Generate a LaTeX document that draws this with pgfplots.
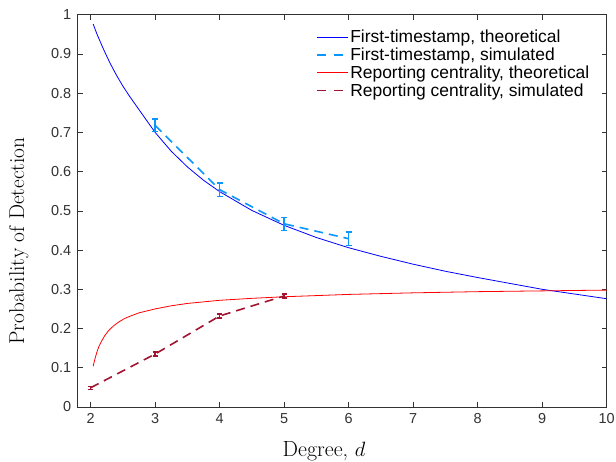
\documentclass[border=0pt]{standalone}
\usepackage{fontspec}
\usepackage{pgfplots}
\pgfplotsset{compat=1.18}
\newfontfamily\arial{Liberation Sans}
\definecolor{ThBlue}{RGB}{0,0,255}
\definecolor{SimBlue}{RGB}{10,150,250}
\definecolor{ThRed}{RGB}{255,0,0}
\definecolor{SimRed}{RGB}{162,20,47}
\definecolor{AxGray}{RGB}{50,50,50}

\begin{document}
\begin{tikzpicture}
\begin{axis}[
    scale only axis,
    width=529bp,
    height=392.3bp,
    xmin=1.8, xmax=10,
    ymin=0, ymax=1,
    xtick={2,3,4,5,6,7,8,9,10},
    ytick={0,0.1,0.2,0.3,0.4,0.5,0.6,0.7,0.8,0.9,1},
    minor tick num=0,
    tick align=inside,
    major tick length=5bp,
    axis line style={draw=AxGray, line width=0.6bp},
    tick style={draw=AxGray, line width=0.6bp},
    /pgf/number format/assume math mode=true,
    tick label style={font=\arial\fontsize{14.5}{17}\selectfont, text=AxGray},
    yticklabel style={xshift=-3bp},
    xticklabel style={yshift=-3bp},
    xlabel={Degree, $d$},
    ylabel={Probability of Detection},
    label style={font=\fontsize{21.5}{26}\selectfont},
    xlabel style={at={(axis description cs:0.4656,-0.1267)}, anchor=base, font=\fontsize{22}{26}\selectfont},
    ylabel style={at={(axis description cs:-0.1015,0.423)}, anchor=base},
    legend style={
        draw=none, fill=none,
        at={(axis description cs:0.4505,0.965)},
        anchor=north west,
        inner sep=0pt,
        row sep=0.7bp,
        font=\arial\fontsize{17.5}{19}\selectfont,
        nodes={inner sep=1.5bp},
    },
    legend cell align=left,
    legend image code/.code={\draw[#1] (0bp,0bp) -- (31bp,0bp);},
    clip=true,
]

\addlegendimage{ThBlue, line width=0.9bp}
\addlegendentry{First-timestamp, theoretical}
\addlegendimage{SimBlue, line width=1.6bp, dash pattern=on 9bp off 8bp}
\addlegendentry{First-timestamp, simulated}
\addlegendimage{ThRed, line width=0.9bp}
\addlegendentry{Reporting centrality, theoretical}
\addlegendimage{SimRed, line width=1.6bp, dash pattern=on 9bp off 8bp}
\addlegendentry{Reporting centrality, simulated}

% theoretical curves
\addplot[ThBlue, line width=0.8bp, forget plot] coordinates {
    (2.04,0.976) (2.1,0.950) (2.2,0.912) (2.3,0.877) (2.4,0.846)
    (2.5,0.818) (2.6,0.793) (2.75,0.758) (3,0.700) (3.25,0.652)
    (3.5,0.612) (3.75,0.578) (4,0.549) (4.5,0.501) (5,0.463)
    (5.5,0.432) (6,0.406) (6.5,0.384) (7,0.364) (7.5,0.346)
    (8,0.330) (8.5,0.315) (9,0.300) (9.5,0.288) (10,0.276)
};

\addplot[ThRed, line width=0.8bp, forget plot] coordinates {
    (2.04,0.104) (2.06,0.118) (2.08,0.130) (2.10,0.141) (2.13,0.155)
    (2.17,0.168) (2.22,0.182) (2.28,0.195) (2.35,0.206) (2.43,0.216)
    (2.52,0.225) (2.62,0.232) (2.75,0.240) (2.9,0.246) (3,0.250)
    (3.25,0.258) (3.5,0.264) (4,0.272) (4.5,0.277) (5,0.281)
    (6,0.287) (7,0.291) (8,0.294) (9,0.296) (10,0.298)
};

% simulated, with error bars
\addplot[SimBlue, line width=1.6bp, dash pattern=on 9bp off 6bp, forget plot,
    error bars/.cd, y dir=both, y explicit,
    error bar style={solid, line width=1.6bp},
    error mark options={rotate=90, mark size=3bp, line width=1.2bp, solid}]
coordinates {
    (3,0.718) +- (0,0.016)
    (4,0.554) +- (0,0.017)
    (5,0.467) +- (0,0.017)
    (6,0.429) +- (0,0.017)
};

\addplot[SimRed, line width=1.6bp, dash pattern=on 9bp off 6bp, forget plot,
    error bars/.cd, y dir=both, y explicit,
    error bar style={solid, line width=1.6bp},
    error mark options={rotate=90, mark size=2.5bp, line width=1.2bp, solid}]
coordinates {
    (2,0.049) +- (0,0.004)
    (3,0.135) +- (0,0.005)
    (4,0.232) +- (0,0.005)
    (5,0.283) +- (0,0.005)
};

\coordinate (bl) at (rel axis cs:0,0);
\coordinate (tr) at (rel axis cs:1,1);
\end{axis}
\pgfresetboundingbox
\path ([shift={(-77.7bp,-55bp)}]bl) rectangle ([shift={(9.3bp,14.7bp)}]tr);
\end{tikzpicture}
\end{document}
